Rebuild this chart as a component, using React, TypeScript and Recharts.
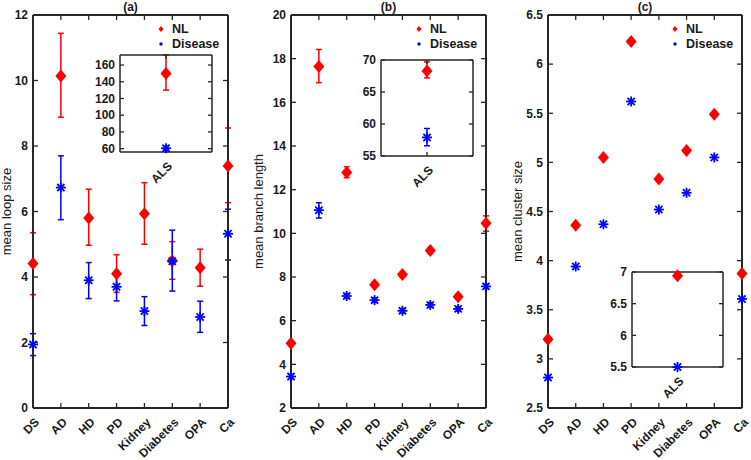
import React from 'react';
import { ScatterChart, Scatter, XAxis, YAxis, ErrorBar, Legend, Label, CartesianGrid } from 'recharts';

// categories on the x axis
const categories = ['DS', 'AD', 'HD', 'PD', 'Kidney', 'Diabetes', 'OPA', 'Ca'];
const catTicks = categories.map((_, i) => i);

// (a) mean loop size
const loopNL = [4.41, 10.14, 5.8, 4.1, 5.93, 4.5, 4.28, 7.39];
const loopNLLow = [3.46, 8.88, 4.97, 3.53, 5.0, 3.93, 3.72, 6.27];
const loopNLHigh = [5.35, 11.44, 6.68, 4.68, 6.88, 5.08, 4.85, 8.55];
const loopD = [1.94, 6.73, 3.9, 3.7, 2.96, 4.48, 2.78, 5.32];
const loopDLow = [1.6, 5.75, 3.34, 3.27, 2.52, 3.57, 2.31, 4.52];
const loopDHigh = [2.27, 7.7, 4.44, 4.15, 3.4, 5.43, 3.26, 6.07];
const loopTicks = [0, 2, 4, 6, 8, 10, 12];

// (b) mean branch length
const branchNL = [4.97, 17.64, 12.79, 7.65, 8.12, 9.21, 7.09, 10.46];
const branchNLLow = [4.87, 16.9, 12.55, 7.55, 8.02, 9.11, 6.99, 10.1];
const branchNLHigh = [5.07, 18.42, 13.05, 7.75, 8.22, 9.31, 7.19, 10.8];
const branchD = [3.44, 11.06, 7.13, 6.94, 6.45, 6.72, 6.54, 7.57];
const branchDLow = [3.34, 10.7, 7.03, 6.84, 6.35, 6.62, 6.44, 7.47];
const branchDHigh = [3.54, 11.4, 7.23, 7.04, 6.55, 6.82, 6.64, 7.67];
const branchTicks = [2, 4, 6, 8, 10, 12, 14, 16, 18, 20];

// (c) mean cluster size
const clusterNL = [3.2, 4.36, 5.05, 6.23, 4.83, 5.12, 5.49, 3.87];
const clusterD = [2.81, 3.94, 4.37, 5.62, 4.52, 4.69, 5.05, 3.61];
const clusterTicks = [2.5, 3, 3.5, 4, 4.5, 5, 5.5, 6, 6.5];

// ALS insets: [mean, low, high]
const alsLoopNL = [150, 130, 172];
const alsLoopD = [60.5, 58.5, 63];
const alsLoopTicks = [60, 80, 100, 120, 140, 160];
const alsBranchNL = [68.3, 67.2, 69.7];
const alsBranchD = [57.9, 56.6, 59.3];
const alsBranchTicks = [55, 60, 65, 70];
const alsClusterNL = [6.94, 6.94, 6.94];
const alsClusterD = [5.5, 5.5, 5.5];
const alsClusterTicks = [5.5, 6, 6.5, 7];

const AX = '#262626';
const TXT = '#1a1a1a';
const RED = '#ff0000';
const BLUE = '#0000ff';
const FONT = '"Liberation Sans", Arial, sans-serif';

const rows = (vals: number[], low?: number[], high?: number[]) =>
  vals.map((v, i) => ({
    x: i,
    y: v,
    err: low && high ? [v - low[i], high[i] - v] : [0, 0],
  }));

const alsRow = (t: number[]) => [{ x: 0, y: t[0], err: [t[0] - t[1], t[2] - t[0]] }];

const Diamond = (p: any) => {
  const { cx, cy } = p;
  if (cx == null || cy == null) return null;
  return <polygon points={`${cx},${cy - 6.5} ${cx + 5.5},${cy} ${cx},${cy + 6.5} ${cx - 5.5},${cy}`} fill={RED} />;
};

const Star = (p: any) => {
  const { cx, cy } = p;
  if (cx == null || cy == null) return null;
  const r = 5;
  const d = 3.6;
  return (
    <g stroke={BLUE} strokeWidth={1.8}>
      <line x1={cx - r} y1={cy} x2={cx + r} y2={cy} />
      <line x1={cx} y1={cy - r} x2={cx} y2={cy + r} />
      <line x1={cx - d} y1={cy - d} x2={cx + d} y2={cy + d} />
      <line x1={cx - d} y1={cy + d} x2={cx + d} y2={cy - d} />
    </g>
  );
};

const Blank = () => <g />;

// slanted category name under the axis
const slant = (p: any) => {
  const { cx, cy } = p;
  if (cx == null || cy == null) return null;
  const lx = cx + 4;
  const ly = cy + 12;
  return (
    <text
      x={lx}
      y={ly}
      dy="0.35em"
      transform={`rotate(-45, ${lx}, ${ly})`}
      textAnchor="end"
      fill={TXT}
      fontSize={12}
      fontWeight="bold"
      fontFamily={FONT}
    >
      {p.payload?.name ?? p.name}
    </text>
  );
};

// tick positions on the frame; err = inward tick length in data units
const edgeRows = (names: string[], xs: number[], y: number, err: number[]) =>
  xs.map((x, i) => ({ x, y, name: names[i], err }));
const sideRows = (ys: number[], x: number, err: number[]) => ys.map((y) => ({ x, y, err }));

const order = ['NL', 'Disease'];

const KeyBox = ({ payload }: any) => {
  const items = (payload || [])
    .filter((a: any) => order.includes(a.value))
    .sort((a: any, b: any) => order.indexOf(a.value) - order.indexOf(b.value));
  return (
    <div style={{ fontFamily: FONT, fontWeight: 'bold', fontSize: 12.5, color: TXT }}>
      {items.map((p: any) => (
        <div key={p.value} style={{ display: 'flex', alignItems: 'center', height: 15 }}>
          <svg width={10} height={10}>
            {p.value === 'NL' ? (
              <polygon points="5,2 7.5,5 5,8 2.5,5" fill={RED} />
            ) : (
              <circle cx={5} cy={5} r={1.7} fill={BLUE} />
            )}
          </svg>
          <span style={{ marginLeft: 6 }}>{p.value}</span>
        </div>
      ))}
    </div>
  );
};

const tickFont = { fill: TXT, fontSize: 12, fontWeight: 'bold', fontFamily: FONT };

// axis box: bottom/left carry the numbers, top/right only close the frame
function Frame({ xDomain, yDomain, yTicks, yw, xh, sw, title, ylabel, lx }: any) {
  return [
    <XAxis
      key="xb"
      xAxisId="b"
      type="number"
      dataKey="x"
      domain={xDomain}
      ticks={[]}
      height={xh}
      tick={false}
      tickLine={false}
      axisLine={{ stroke: AX, strokeWidth: sw }}
    />,
    <XAxis
      key="xt"
      xAxisId="t"
      orientation="top"
      type="number"
      domain={xDomain}
      height={1}
      tick={false}
      tickLine={false}
      axisLine={{ stroke: AX, strokeWidth: sw }}
    >
      {title && <Label value={title} position="top" offset={3} style={{ fontSize: 12, fontWeight: 'bold', fill: TXT, fontFamily: FONT }} />}
    </XAxis>,
    <YAxis
      key="yl"
      yAxisId="l"
      type="number"
      dataKey="y"
      domain={yDomain}
      ticks={yTicks}
      interval={0}
      width={yw}
      tickSize={0}
      tickMargin={5}
      tickLine={false}
      axisLine={{ stroke: AX, strokeWidth: sw }}
      tick={tickFont}
    >
      {ylabel && (
        <Label
          value={ylabel}
          angle={-90}
          position="insideLeft"
          offset={lx}
          style={{ textAnchor: 'middle', fontSize: 13, fill: TXT, fontFamily: FONT }}
        />
      )}
    </YAxis>,
    <YAxis
      key="yr"
      yAxisId="r"
      orientation="right"
      type="number"
      domain={yDomain}
      width={1}
      tick={false}
      tickLine={false}
      axisLine={{ stroke: AX, strokeWidth: sw }}
    />,
  ];
}

function TickMarks({ names, xs, xDomain, yDomain, yTicks, len, plotW, plotH }: any) {
  const common = { xAxisId: 'b', yAxisId: 'l', legendType: 'none' as const, isAnimationActive: false, shape: Blank };
  const ty = ((yDomain[1] - yDomain[0]) * len) / plotH;
  const tx = ((xDomain[1] - xDomain[0]) * len) / plotW;
  const bar = (dir: 'x' | 'y') => <ErrorBar dataKey="err" direction={dir} stroke={AX} strokeWidth={1.3} width={0} />;
  return [
    <Scatter key="tb" {...common} data={edgeRows(names, xs, yDomain[0], [0, ty])}>{bar('y')}</Scatter>,
    <Scatter key="tt" {...common} data={edgeRows(names, xs, yDomain[1], [ty, 0])}>{bar('y')}</Scatter>,
    <Scatter key="tl" {...common} data={sideRows(yTicks, xDomain[0], [0, tx])}>{bar('x')}</Scatter>,
    <Scatter key="tr" {...common} data={sideRows(yTicks, xDomain[1], [tx, 0])}>{bar('x')}</Scatter>,
    <Scatter key="names" {...common} shape={slant} data={edgeRows(names, xs, yDomain[0], [0, 0])} />,
  ];
}

function Panel({ left, width, yw, mr, domain, yTicks, title, ylabel, lx, nl, d, bars }: any) {
  const plotRight = width - mr;
  const xDomain = [0, 7];
  const xh = 52;
  return (
    <div style={{ position: 'absolute', left, top: 0 }}>
      <ScatterChart width={width} height={460} margin={{ top: 14, right: mr - 1, bottom: 0, left: 0 }}>
        {Frame({ xDomain, yDomain: domain, yTicks, yw, xh, sw: 2, title, ylabel, lx })}
        <Legend
          layout="vertical"
          align="center"
          verticalAlign="middle"
          wrapperStyle={{ top: 21, left: plotRight - 72, width: 80, height: 30 }}
          content={<KeyBox />}
        />
        <Scatter name="NL" data={nl} xAxisId="b" yAxisId="l" fill={RED} shape={Diamond} isAnimationActive={false}>
          {bars && <ErrorBar dataKey="err" direction="y" stroke={RED} strokeWidth={1.5} width={3} />}
        </Scatter>
        <Scatter name="Disease" data={d} xAxisId="b" yAxisId="l" fill={BLUE} shape={Star} isAnimationActive={false}>
          {bars && <ErrorBar dataKey="err" direction="y" stroke={BLUE} strokeWidth={1.5} width={3} />}
        </Scatter>
        {TickMarks({
          names: categories, xs: catTicks, xDomain, yDomain: domain, yTicks, len: 5,
          plotW: width - mr - yw, plotH: 460 - 15 - xh,
        })}
      </ScatterChart>
    </div>
  );
}

function Inset({ left, top, width, plotH, domain, yTicks, nl, d, bars }: any) {
  const xDomain = [-1, 1];
  const xh = 46;
  return (
    <div style={{ position: 'absolute', left, top }}>
      <ScatterChart width={width} height={9 + plotH + xh} margin={{ top: 9, right: 5, bottom: 0, left: 0 }}>
        <CartesianGrid xAxisId="b" yAxisId="l" horizontal={false} vertical={false} fill="#fff" />
        {Frame({ xDomain, yDomain: domain, yTicks, yw: 34, xh, sw: 1.5 })}
        <Scatter data={nl} xAxisId="b" yAxisId="l" fill={RED} shape={Diamond} isAnimationActive={false}>
          {bars && <ErrorBar dataKey="err" direction="y" stroke={RED} strokeWidth={1.5} width={3} />}
        </Scatter>
        <Scatter data={d} xAxisId="b" yAxisId="l" fill={BLUE} shape={Star} isAnimationActive={false}>
          {bars && <ErrorBar dataKey="err" direction="y" stroke={BLUE} strokeWidth={1.5} width={3} />}
        </Scatter>
        {TickMarks({
          names: ['ALS'], xs: [0], xDomain, yDomain: domain, yTicks, len: 4,
          plotW: width - 40, plotH: plotH - 1,
        })}
      </ScatterChart>
    </div>
  );
}

export default function App() {
  return (
    <div style={{ position: 'absolute', left: 0, top: 0, width: 751, height: 460, background: '#fff', fontFamily: FONT }}>
      <Panel
        left={0} width={240} yw={33} mr={12}
        domain={[0, 12]} yTicks={loopTicks}
        title="(a)" ylabel="mean loop size" lx={6}
        nl={rows(loopNL, loopNLLow, loopNLHigh)} d={rows(loopD, loopDLow, loopDHigh)} bars
      />
      <Panel
        left={250} width={248} yw={41} mr={12}
        domain={[2, 20]} yTicks={branchTicks}
        title="(b)" ylabel="mean branch length" lx={8}
        nl={rows(branchNL, branchNLLow, branchNLHigh)} d={rows(branchD, branchDLow, branchDHigh)} bars
      />
      <Panel
        left={500} width={251} yw={48} mr={9}
        domain={[2.5, 6.5]} yTicks={clusterTicks}
        title="(c)" ylabel="mean cluster size" lx={17}
        nl={rows(clusterNL)} d={rows(clusterD)} bars={false}
      />
      <Inset left={86} top={45} width={132} plotH={98} domain={[56, 172]} yTicks={alsLoopTicks}
        nl={alsRow(alsLoopNL)} d={alsRow(alsLoopD)} bars />
      <Inset left={347} top={50} width={132} plotH={97} domain={[55, 70]} yTicks={alsBranchTicks}
        nl={alsRow(alsBranchNL)} d={alsRow(alsBranchD)} bars />
      <Inset left={598} top={262} width={131} plotH={96} domain={[5.5, 7]} yTicks={alsClusterTicks}
        nl={alsRow(alsClusterNL)} d={alsRow(alsClusterD)} bars={false} />
    </div>
  );
}
